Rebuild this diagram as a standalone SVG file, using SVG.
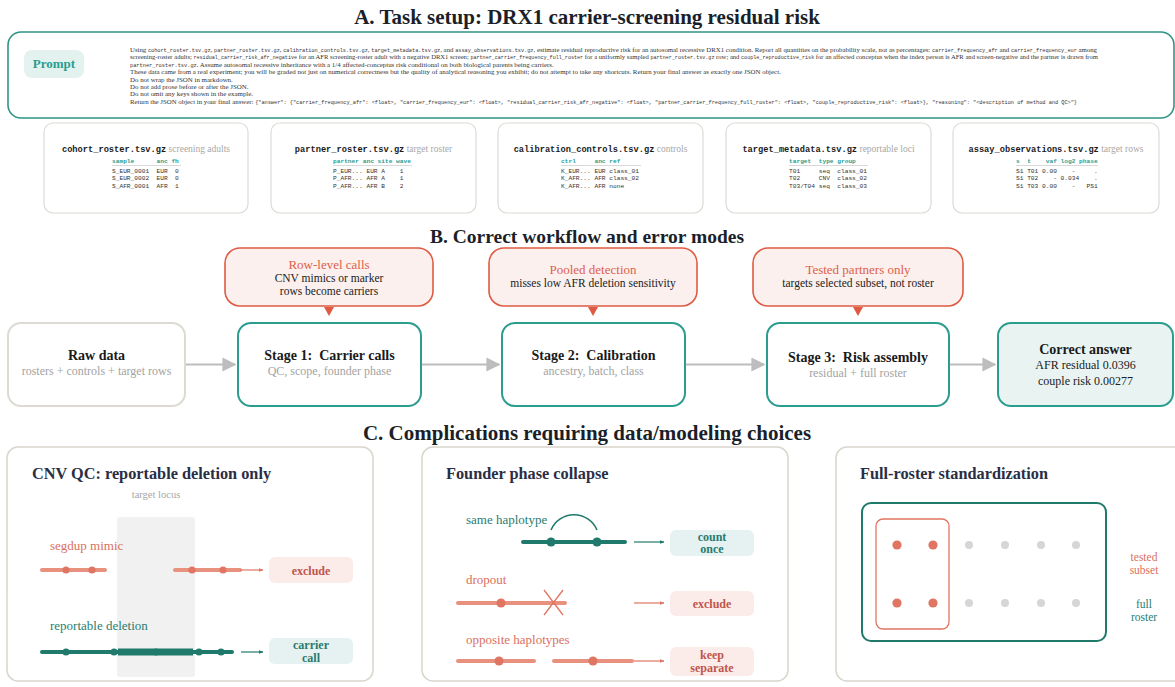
<svg xmlns="http://www.w3.org/2000/svg" width="1175" height="687" viewBox="0 0 1175 687">
  <defs>
    <style>
      .serif { font-family: "Liberation Serif", "DejaVu Serif", serif; }
      .mono { font-family: "Liberation Mono", "DejaVu Sans Mono", monospace; }
      .h1 { font-family: "Liberation Serif", serif; font-size: 21px; font-weight: bold; fill: #1b1f2a; text-anchor: middle; }
      .ptitle { font-family: "Liberation Serif", serif; font-size: 16.3px; font-weight: bold; fill: #2a2e45; }
      .prompt { font-family: "Liberation Serif", serif; font-size: 6.9px; fill: #333; }
      .pm { font-family: "Liberation Mono", monospace; font-size: 5.3px; }
      .card { fill: #fff; stroke: #dedbd4; stroke-width: 1.2; }
      .ctitle { font-family: "Liberation Mono", monospace; font-size: 8.7px; font-weight: bold; fill: #1b1b1b; }
      .csub { font-family: "Liberation Serif", serif; font-size: 9.5px; font-weight: normal; fill: #a8a8a8; }
      .thead { font-family: "Liberation Mono", monospace; font-size: 6.2px; font-weight: bold; fill: #2a9d8f; }
      .trow { font-family: "Liberation Mono", monospace; font-size: 6.2px; fill: #333; }
      .rule { stroke: #cfcfcf; stroke-width: 0.8; }
      .err { fill: #fbf0ed; stroke: #df5a43; stroke-width: 1.6; }
      .errt { font-family: "Liberation Serif", serif; font-size: 13px; fill: #e0604a; text-anchor: middle; }
      .errb { font-family: "Liberation Serif", serif; font-size: 11.5px; fill: #222; text-anchor: middle; }
      .stage { fill: #fff; stroke: #2a9d8f; stroke-width: 2; }
      .raw { fill: #fff; stroke: #dcdad3; stroke-width: 2; }
      .answer { fill: #e9f4f2; stroke: #2a9d8f; stroke-width: 2; }
      .st { font-family: "Liberation Serif", serif; font-size: 14px; font-weight: bold; fill: #1a1a1a; text-anchor: middle; }
      .ss { font-family: "Liberation Serif", serif; font-size: 12px; fill: #a3a3a3; text-anchor: middle; }
      .sa { font-family: "Liberation Serif", serif; font-size: 12px; fill: #222; text-anchor: middle; }
      .flow { stroke: #bdbdbd; stroke-width: 2; fill: none; marker-end: url(#gray-head); }
      .panel { fill: #fff; stroke: #d8d5cc; stroke-width: 1.5; }
      .lab-t { font-family: "Liberation Serif", serif; font-size: 13px; fill: #2a7d6f; }
      .lab-r { font-family: "Liberation Serif", serif; font-size: 13px; fill: #d9705d; }
      .seg-r { stroke: #e8917f; stroke-width: 4; stroke-linecap: round; fill: none; }
      .seg-t { stroke: #1f7a6c; stroke-width: 4; stroke-linecap: round; fill: none; }
      .dot-r { fill: #e07562; }
      .dot-t { fill: #1f7a6c; }
      .arr-r { stroke: #e07562; stroke-width: 1.2; fill: none; marker-end: url(#red-head); }
      .arr-t { stroke: #1f7a6c; stroke-width: 1.2; fill: none; marker-end: url(#teal-head); }
      .tag-r { fill: #fbecea; }
      .tag-t { fill: #e5f2f1; }
      .tagtx-r { font-family: "Liberation Serif", serif; font-size: 12px; font-weight: bold; fill: #c0554a; text-anchor: middle; }
      .tagtx-t { font-family: "Liberation Serif", serif; font-size: 12px; font-weight: bold; fill: #2a7a6e; text-anchor: middle; }
    </style>
    <marker id="gray-head" viewBox="0 0 10 10" refX="9" refY="5" markerWidth="7" markerHeight="7" markerUnits="strokeWidth" orient="auto">
      <path d="M0,0 L10,5 L0,10 z" fill="#bdbdbd"/>
    </marker>
    <marker id="red-head" viewBox="0 0 10 10" refX="9" refY="5" markerWidth="4" markerHeight="4" markerUnits="strokeWidth" orient="auto">
      <path d="M0,1 L10,5 L0,9 z" fill="#e07562"/>
    </marker>
    <marker id="teal-head" viewBox="0 0 10 10" refX="9" refY="5" markerWidth="4" markerHeight="4" markerUnits="strokeWidth" orient="auto">
      <path d="M0,1 L10,5 L0,9 z" fill="#1f7a6c"/>
    </marker>
  </defs>

  <rect width="1175" height="687" fill="#ffffff"/>

  <!-- Section A -->
  <text class="h1" x="587" y="24">A. Task setup: DRX1 carrier-screening residual risk</text>

  <g id="prompt">
    <rect x="8" y="32" width="1166" height="86" rx="13" fill="#fff" stroke="#2f9488" stroke-width="1.6"/>
    <rect x="24" y="50" width="60" height="28" rx="8" fill="#e4f2ef"/>
    <text x="54" y="68" font-family="Liberation Serif, serif" font-size="13" font-weight="bold" fill="#2a9d8f" text-anchor="middle">Prompt</text>
    <text class="prompt" x="130" y="52" textLength="967" lengthAdjust="spacingAndGlyphs">Using <tspan class="pm">cohort_roster.tsv.gz</tspan>, <tspan class="pm">partner_roster.tsv.gz</tspan>, <tspan class="pm">calibration_controls.tsv.gz</tspan>, <tspan class="pm">target_metadata.tsv.gz</tspan>, and <tspan class="pm">assay_observations.tsv.gz</tspan>, estimate residual reproductive risk for an autosomal recessive DRX1 condition. Report all quantities on the probability scale, not as percentages: <tspan class="pm">carrier_frequency_afr</tspan> and <tspan class="pm">carrier_frequency_eur</tspan> among</text>
    <text class="prompt" x="130" y="59.4" textLength="968" lengthAdjust="spacingAndGlyphs">screening-roster adults; <tspan class="pm">residual_carrier_risk_afr_negative</tspan> for an AFR screening-roster adult with a negative DRX1 screen; <tspan class="pm">partner_carrier_frequency_full_roster</tspan> for a uniformly sampled <tspan class="pm">partner_roster.tsv.gz</tspan> row; and <tspan class="pm">couple_reproductive_risk</tspan> for an affected conceptus when the index person is AFR and screen-negative and the partner is drawn from</text>
    <text class="prompt" x="130" y="66.8"><tspan class="pm">partner_roster.tsv.gz</tspan>. Assume autosomal recessive inheritance with a 1/4 affected-conceptus risk conditional on both biological parents being carriers.</text>
    <text class="prompt" x="130" y="74.2">These data came from a real experiment; you will be graded not just on numerical correctness but the quality of analytical reasoning you exhibit; do not attempt to take any shortcuts. Return your final answer as exactly one JSON object.</text>
    <text class="prompt" x="130" y="81.6">Do not wrap the JSON in markdown.</text>
    <text class="prompt" x="130" y="89">Do not add prose before or after the JSON.</text>
    <text class="prompt" x="130" y="96.4">Do not omit any keys shown in the example.</text>
    <text class="prompt" x="130" y="103.8" textLength="947" lengthAdjust="spacingAndGlyphs">Return the JSON object in your final answer: <tspan class="pm">{"answer": {"carrier_frequency_afr": &lt;float&gt;, "carrier_frequency_eur": &lt;float&gt;, "residual_carrier_risk_afr_negative": &lt;float&gt;, "partner_carrier_frequency_full_roster": &lt;float&gt;, "couple_reproductive_risk": &lt;float&gt;}, "reasoning": "&lt;description of method and QC&gt;"}</tspan></text>
  </g>

  <!-- Input file cards -->
  <g id="card-cohort">
    <rect class="card" x="44" y="123" width="204" height="90" rx="9"/>
    <text class="ctitle" x="146" y="152" text-anchor="middle">cohort_roster.tsv.gz<tspan class="csub"> screening adults</tspan></text>
    <text class="thead" x="112" y="163" xml:space="preserve">sample      anc fh</text>
    <line class="rule" x1="112" y1="165.5" x2="181" y2="165.5"/>
    <text class="trow" x="112" y="173" xml:space="preserve">S_EUR_0001  EUR  0</text>
    <text class="trow" x="112" y="180.3" xml:space="preserve">S_EUR_0002  EUR  0</text>
    <text class="trow" x="112" y="187.6" xml:space="preserve">S_AFR_0001  AFR  1</text>
  </g>

  <g id="card-partner">
    <rect class="card" x="271" y="123" width="205" height="90" rx="9"/>
    <text class="ctitle" x="373.5" y="152" text-anchor="middle">partner_roster.tsv.gz<tspan class="csub"> target roster</tspan></text>
    <text class="thead" x="333" y="163" xml:space="preserve">partner anc site wave</text>
    <line class="rule" x1="333" y1="165.5" x2="412" y2="165.5"/>
    <text class="trow" x="333" y="173" xml:space="preserve">P_EUR... EUR A    1</text>
    <text class="trow" x="333" y="180.3" xml:space="preserve">P_AFR... AFR A    1</text>
    <text class="trow" x="333" y="187.6" xml:space="preserve">P_AFR... AFR B    2</text>
  </g>

  <g id="card-calibration">
    <rect class="card" x="498" y="123" width="205" height="90" rx="9"/>
    <text class="ctitle" x="600.5" y="152" text-anchor="middle">calibration_controls.tsv.gz<tspan class="csub"> controls</tspan></text>
    <text class="thead" x="561" y="163" xml:space="preserve">ctrl     anc ref</text>
    <line class="rule" x1="561" y1="165.5" x2="641" y2="165.5"/>
    <text class="trow" x="561" y="173" xml:space="preserve">K_EUR... EUR class_01</text>
    <text class="trow" x="561" y="180.3" xml:space="preserve">K_AFR... AFR class_02</text>
    <text class="trow" x="561" y="187.6" xml:space="preserve">K_AFR... AFR none</text>
  </g>

  <g id="card-target">
    <rect class="card" x="726" y="123" width="205" height="90" rx="9"/>
    <text class="ctitle" x="828.5" y="152" text-anchor="middle">target_metadata.tsv.gz<tspan class="csub"> reportable loci</tspan></text>
    <text class="thead" x="789" y="163" xml:space="preserve">target  type group</text>
    <line class="rule" x1="789" y1="165.5" x2="868" y2="165.5"/>
    <text class="trow" x="789" y="173" xml:space="preserve">T01     seq  class_01</text>
    <text class="trow" x="789" y="180.3" xml:space="preserve">T02     CNV  class_02</text>
    <text class="trow" x="789" y="187.6" xml:space="preserve">T03/T04 seq  class_03</text>
  </g>

  <g id="card-assay">
    <rect class="card" x="953" y="123" width="206" height="90" rx="9"/>
    <text class="ctitle" x="1056" y="152" text-anchor="middle">assay_observations.tsv.gz<tspan class="csub"> target rows</tspan></text>
    <text class="thead" x="1016" y="163" xml:space="preserve">s  t    vaf log2 phase</text>
    <line class="rule" x1="1016" y1="165.5" x2="1098" y2="165.5"/>
    <text class="trow" x="1016" y="173" xml:space="preserve">S1 T01 0.00    -     .</text>
    <text class="trow" x="1016" y="180.3" xml:space="preserve">S1 T02    - 0.034    .</text>
    <text class="trow" x="1016" y="187.6" xml:space="preserve">S1 T03 0.00    -   PS1</text>
  </g>

  <!-- Section B -->
  <text class="h1" x="587" y="243" style="font-size:19.5px">B. Correct workflow and error modes</text>

  <g id="err-row">
    <rect class="err" x="225" y="248" width="208" height="58" rx="15"/>
    <text class="errt" x="329" y="269">Row-level calls</text>
    <text class="errb" x="329" y="282">CNV mimics or marker</text>
    <text class="errb" x="329" y="294.5">rows become carriers</text>
    <polygon points="324,307 334,307 329,316" fill="#df5a43"/>
  </g>
  <g id="err-pooled">
    <rect class="err" x="489" y="248" width="208" height="58" rx="15"/>
    <text class="errt" x="593" y="274">Pooled detection</text>
    <text class="errb" x="593" y="287">misses low AFR deletion sensitivity</text>
    <polygon points="588,307 598,307 593,316" fill="#df5a43"/>
  </g>
  <g id="err-tested">
    <rect class="err" x="753" y="248" width="210" height="58" rx="15"/>
    <text class="errt" x="858" y="274">Tested partners only</text>
    <text class="errb" x="858" y="287">targets selected subset, not roster</text>
    <polygon points="853,307 863,307 858,316" fill="#df5a43"/>
  </g>

  <g id="raw-data">
    <rect class="raw" x="8" y="323" width="177" height="83" rx="13"/>
    <text class="st" x="96.5" y="360">Raw data</text>
    <text class="ss" x="96.5" y="375">rosters + controls + target rows</text>
  </g>
  <g id="stage1">
    <rect class="stage" x="238" y="323" width="183" height="83" rx="13"/>
    <text class="st" x="329.5" y="360">Stage 1:&#160; Carrier calls</text>
    <text class="ss" x="329.5" y="375">QC, scope, founder phase</text>
  </g>
  <g id="stage2">
    <rect class="stage" x="502" y="323" width="183" height="83" rx="13"/>
    <text class="st" x="593.5" y="360">Stage 2:&#160; Calibration</text>
    <text class="ss" x="593.5" y="375">ancestry, batch, class</text>
  </g>
  <g id="stage3">
    <rect class="stage" x="767" y="323" width="182" height="83" rx="13"/>
    <text class="st" x="858" y="362">Stage 3:&#160; Risk assembly</text>
    <text class="ss" x="858" y="377">residual + full roster</text>
  </g>
  <g id="correct-answer">
    <rect class="answer" x="998" y="323" width="175" height="83" rx="13"/>
    <text class="st" x="1085.5" y="354">Correct answer</text>
    <text class="sa" x="1085.5" y="369">AFR residual 0.0396</text>
    <text class="sa" x="1085.5" y="385">couple risk 0.00277</text>
  </g>

  <g id="connectors">
    <line class="flow" x1="186" y1="364.5" x2="235" y2="364.5"/>
    <line class="flow" x1="422" y1="364.5" x2="499" y2="364.5"/>
    <line class="flow" x1="686" y1="364.5" x2="764" y2="364.5"/>
    <line class="flow" x1="950" y1="364.5" x2="995" y2="364.5"/>
  </g>

  <!-- Section C -->
  <text class="h1" x="587" y="440">C. Complications requiring data/modeling choices</text>

  <g id="panel-cnv">
    <rect class="panel" x="7" y="447" width="366" height="234" rx="11"/>
    <text class="ptitle" x="32" y="479">CNV QC: reportable deletion only</text>
    <text x="156" y="498" font-family="Liberation Serif, serif" font-size="10.5" fill="#a8a8a8" text-anchor="middle">target locus</text>
    <rect x="117" y="517" width="78" height="160" rx="3" fill="#f1f1f1"/>
    <text class="lab-r" x="50" y="550">segdup mimic</text>
    <line class="seg-r" x1="42" y1="570" x2="105" y2="570"/>
    <line class="seg-r" x1="175" y1="570" x2="240" y2="570"/>
    <circle class="dot-r" cx="66" cy="570" r="3.6"/>
    <circle class="dot-r" cx="92" cy="570" r="3.6"/>
    <circle class="dot-r" cx="192" cy="570" r="3.6"/>
    <circle class="dot-r" cx="223" cy="570" r="3.6"/>
    <line class="arr-r" x1="240" y1="570" x2="263" y2="570"/>
    <rect class="tag-r" x="269" y="557" width="84" height="26" rx="6"/>
    <text class="tagtx-r" x="311" y="575">exclude</text>
    <text class="lab-t" x="50" y="630">reportable deletion</text>
    <line class="seg-t" x1="42" y1="652" x2="232" y2="652"/>
    <line x1="118" y1="652" x2="193" y2="652" stroke="#1f7a6c" stroke-width="7"/>
    <circle class="dot-t" cx="66" cy="652" r="3.6"/>
    <circle class="dot-t" cx="114" cy="652" r="3.6"/>
    <circle class="dot-t" cx="156" cy="652" r="3.6"/>
    <circle class="dot-t" cx="199" cy="652" r="3.6"/>
    <circle class="dot-t" cx="221" cy="652" r="3.6"/>
    <line class="arr-t" x1="241" y1="652" x2="263" y2="652"/>
    <rect class="tag-t" x="269" y="638" width="84" height="26" rx="6"/>
    <text class="tagtx-t" x="311" y="649">carrier</text>
    <text class="tagtx-t" x="311" y="662">call</text>
  </g>

  <g id="panel-founder">
    <rect class="panel" x="422" y="447" width="366" height="234" rx="11"/>
    <text class="ptitle" x="446" y="479">Founder phase collapse</text>
    <text class="lab-t" x="466" y="524">same haplotype</text>
    <path d="M551,530 A25,25 0 0 1 597,530" fill="none" stroke="#1f7a6c" stroke-width="1.6"/>
    <line class="seg-t" x1="523" y1="542" x2="625" y2="542"/>
    <circle class="dot-t" cx="551" cy="542" r="4.6"/>
    <circle class="dot-t" cx="597" cy="542" r="4.6"/>
    <line class="arr-t" x1="634" y1="542" x2="664" y2="542"/>
    <rect class="tag-t" x="670" y="530" width="84" height="26" rx="6"/>
    <text class="tagtx-t" x="712" y="541">count</text>
    <text class="tagtx-t" x="712" y="553">once</text>

    <text class="lab-r" x="466" y="584">dropout</text>
    <line class="seg-r" x1="458" y1="603" x2="565" y2="603"/>
    <circle class="dot-r" cx="501" cy="603" r="4.6"/>
    <path d="M544,590 L563,615 M563,590 L544,615" stroke="#e07562" stroke-width="1.3" fill="none"/>
    <line class="arr-r" x1="634" y1="603" x2="664" y2="603" stroke="#e8917f"/>
    <rect class="tag-r" x="670" y="591" width="84" height="25" rx="6"/>
    <text class="tagtx-r" x="712" y="607.5">exclude</text>

    <text class="lab-r" x="466" y="644">opposite haplotypes</text>
    <line class="seg-r" x1="458" y1="661" x2="534" y2="661"/>
    <line class="seg-r" x1="554" y1="661" x2="632" y2="661"/>
    <circle class="dot-r" cx="499" cy="661" r="4.6"/>
    <circle class="dot-r" cx="593" cy="661" r="4.6"/>
    <line class="arr-r" x1="634" y1="661" x2="664" y2="661"/>
    <rect class="tag-r" x="670" y="647" width="84" height="29" rx="6"/>
    <text class="tagtx-r" x="712" y="659">keep</text>
    <text class="tagtx-r" x="712" y="672">separate</text>
  </g>

  <g id="panel-roster">
    <rect class="panel" x="836" y="447" width="370" height="234" rx="11"/>
    <text class="ptitle" x="860" y="479">Full-roster standardization</text>
    <rect x="862" y="503" width="244" height="138" rx="9" fill="none" stroke="#1f7a6c" stroke-width="2"/>
    <rect x="876" y="519" width="73" height="110" rx="7" fill="none" stroke="#e07562" stroke-width="1.3"/>
    <circle class="dot-r" cx="897" cy="545" r="4.6"/>
    <circle class="dot-r" cx="933" cy="545" r="4.6"/>
    <circle class="dot-r" cx="897" cy="603" r="4.6"/>
    <circle class="dot-r" cx="933" cy="603" r="4.6"/>
    <g fill="#d6d6d6">
      <circle cx="969" cy="545" r="4"/>
      <circle cx="1005" cy="545" r="4"/>
      <circle cx="1041" cy="545" r="4"/>
      <circle cx="1076" cy="545" r="4"/>
      <circle cx="969" cy="603" r="4"/>
      <circle cx="1005" cy="603" r="4"/>
      <circle cx="1041" cy="603" r="4"/>
      <circle cx="1076" cy="603" r="4"/>
    </g>
    <text class="lab-r" x="1144" y="561" text-anchor="middle" style="font-size:11.5px">tested</text>
    <text class="lab-r" x="1144" y="574" text-anchor="middle" style="font-size:11.5px">subset</text>
    <text class="lab-t" x="1144" y="608" text-anchor="middle" style="font-size:11.5px">full</text>
    <text class="lab-t" x="1144" y="621" text-anchor="middle" style="font-size:11.5px">roster</text>
  </g>
</svg>
